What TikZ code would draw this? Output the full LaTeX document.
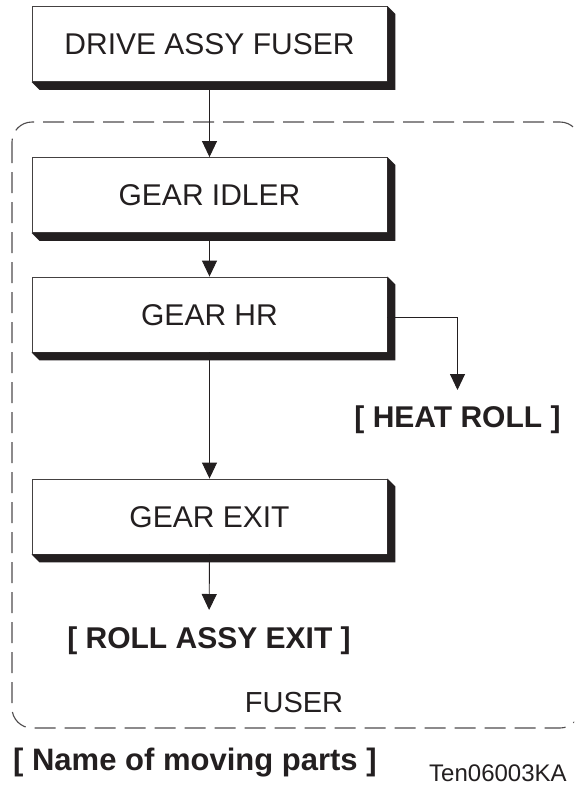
\documentclass[tikz,border=0pt]{standalone}
\usepackage{fontspec}
\setmainfont{Liberation Sans}
\usetikzlibrary{arrows.meta,calc}
\definecolor{ink}{HTML}{231F20}
\tikzset{
  stagebox/.style={draw=ink!85, line width=0.9pt, fill=white, minimum width=355pt, minimum height=75pt,
    inner sep=0pt, text height=21.5pt, text depth=0pt, font=\fontsize{30}{36}\selectfont, text=ink},
  shade/.style={fill=ink},
  flow/.style={draw=ink, line width=0.9pt, -{Triangle[length=16pt,width=15pt]}},
  partlabel/.style={inner sep=0pt, font=\fontsize{30}{36}\selectfont\bfseries, text=ink},
  plainlabel/.style={inner sep=0pt, text=ink},
  group/.style={draw=ink!80, line width=1.1pt, dash pattern=on 21pt off 9pt, rounded corners=20pt}
}
\newcommand{\boxshade}[1]{%
  \fill[shade] (#1.south west) -- ([shift={(8,8)}]#1.south west) -- ([shift={(8,8)}]#1.south east)
    -- ([shift={(8,8)}]#1.north east) -- (#1.north east) -- (#1.south east) -- cycle;}
\begin{document}
\begin{tikzpicture}[x=1pt,y=-1pt]
\clip (0,0) rectangle (574,785);
\fill[white] (0,0) rectangle (574,785);
% group outline
\draw[group] (12,122) rectangle (580,728);
% boxes
\node[stagebox] (drive) at (209.5,44) {DRIVE ASSY FUSER};
\node[stagebox] (idler) at (209.5,195) {GEAR IDLER};
\node[stagebox] (hr) at (209.5,314.5) {GEAR HR};
\node[stagebox] (exit) at (209.5,516.5) {GEAR EXIT};
% labels
\node[partlabel, anchor=north] (heat) at (457.5,406) {[ HEAT ROLL ]};
\node[partlabel, anchor=north] (rollexit) at (209,627) {[ ROLL ASSY EXIT ]};
\node[plainlabel, anchor=base, font=\fontsize{29}{34}\selectfont] (fuser) at (294,712) {FUSER};
\node[partlabel, anchor=base west, font=\fontsize{31}{36}\selectfont\bfseries] (title) at (13,770) {[ Name of moving parts ]};
\node[plainlabel, anchor=base west, font=\fontsize{24}{28}\selectfont] (code) at (429,781) {Ten06003KA};
% connectors
\draw[flow] (drive.south) -- (idler.north);
\draw[flow] (idler.south) -- (hr.north);
\draw[flow] (hr.south) -- (exit.north);
\draw[flow, shorten >=17pt] (exit.south) -- (rollexit.north);
\draw[flow, shorten >=16pt] ([yshift=-2.5pt]hr.east) -| (heat.north);
% shadows
\boxshade{drive}
\boxshade{idler}
\boxshade{hr}
\boxshade{exit}
\end{tikzpicture}
\end{document}
